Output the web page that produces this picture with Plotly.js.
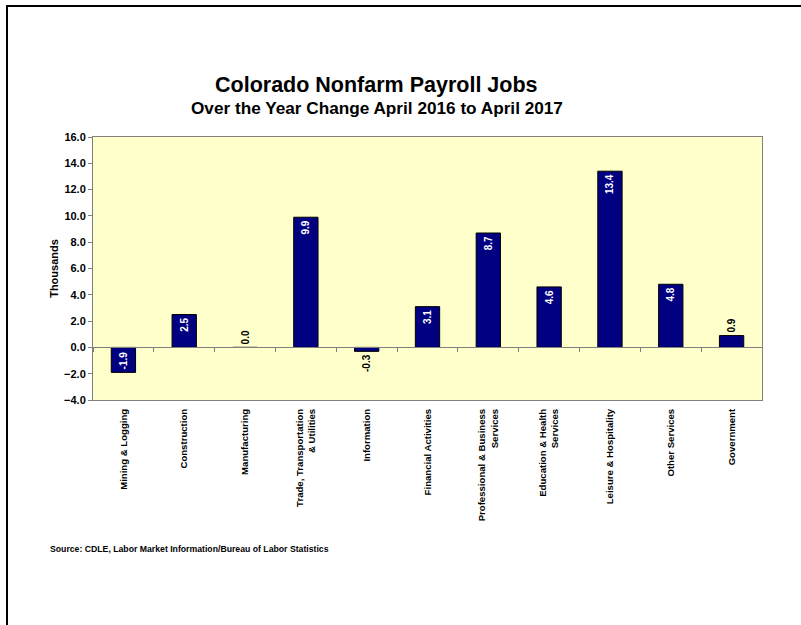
<!DOCTYPE html>
<html>
<head>
<meta charset="utf-8">
<script src="https://cdn.plot.ly/plotly-3.0.1.min.js"></script>
<style>
  html, body { margin: 0; padding: 0; background: #fff; }
  #wrap { position: relative; width: 801px; height: 625px; overflow: hidden; }
  #chart { position: absolute; left: 0; top: 0; width: 801px; height: 625px; }
  #frame { position: absolute; left: 6px; top: 5px; width: 810px; height: 640px;
           border-left: 2px solid #000; border-top: 2px solid #000; pointer-events: none; }
</style>
</head>
<body>
<div id="wrap">
  <div id="chart"></div>
  <div id="frame"></div>
</div>
<script>
// ---- data ----
const categories = [
  "Mining & Logging",
  "Construction",
  "Manufacturing",
  "Trade, Transportation<br>& Utilities",
  "Information",
  "Financial Activities",
  "Professional & Business<br>Services",
  "Education & Health<br>Services",
  "Leisure & Hospitality",
  "Other Services",
  "Government"
];
const values = [-1.9, 2.5, 0.0, 9.9, -0.3, 3.1, 8.7, 4.6, 13.4, 4.8, 0.9];
const valueLabels = values.map(v => v.toFixed(1));
const labelPositions = ["inside","inside","outside","inside","outside","inside","inside","inside","inside","inside","outside"];

const yTickVals = [-4, -2, 0, 2, 4, 6, 8, 10, 12, 14, 16];

const titleText = "<b>Colorado Nonfarm Payroll Jobs</b>";
const subtitleText = "<b>Over the Year Change April 2016 to April 2017</b>";
const sourceText = "<b>Source: CDLE, Labor Market Information/Bureau of Labor Statistics</b>";
const yTitle = "<b>Thousands</b>";

const FONT = "Liberation Sans, Arial, sans-serif";

const bars = {
  type: "bar",
  x: categories,
  y: values,
  width: 0.4,
  marker: { color: "#000080", line: { color: "#000000", width: 1 } },
  text: valueLabels,
  textposition: labelPositions,
  insidetextanchor: "end",
  textangle: -90,
  constraintext: "none",
  cliponaxis: false,
  insidetextfont: { family: FONT, size: 10, color: "#ffffff", weight: "bold" },
  outsidetextfont: { family: FONT, size: 10, color: "#000000", weight: "bold" },
  hoverinfo: "x+y"
};

const zeroAxisHelper = {
  type: "scatter",
  mode: "markers",
  x: categories,
  y: values,
  xaxis: "x2",
  marker: { opacity: 0 },
  hoverinfo: "skip",
  showlegend: false
};

const layout = {
  width: 801,
  height: 625,
  margin: { l: 93, r: 39, t: 137, b: 225 },
  paper_bgcolor: "#ffffff",
  plot_bgcolor: "#FFFFCC",
  showlegend: false,
  font: { family: FONT, color: "#000" },
  xaxis: {
    type: "category",
    range: [-0.5, 10.5],
    showgrid: false,
    zeroline: false,
    showline: true,
    mirror: true,
    linecolor: "#808080",
    linewidth: 1,
    ticks: "",
    tickangle: -90,
    ticklabelstandoff: 4,
    tickfont: { family: FONT, size: 9.6, color: "#000", weight: "bold" }
  },
  xaxis2: {
    type: "category",
    overlaying: "x",
    anchor: "free",
    position: 0.2,
    side: "bottom",
    range: [-0.5, 10.5],
    showgrid: false,
    zeroline: false,
    showline: true,
    linecolor: "#808080",
    linewidth: 1,
    ticks: "outside",
    tickson: "boundaries",
    ticklen: 4,
    tickcolor: "#808080",
    showticklabels: false
  },
  yaxis: {
    range: [-4, 16],
    tickvals: yTickVals,
    tickformat: ".1f",
    showgrid: false,
    zeroline: false,
    showline: true,
    mirror: true,
    linecolor: "#808080",
    linewidth: 1,
    ticks: "outside",
    ticklen: 4,
    tickcolor: "#808080",
    tickfont: { family: FONT, size: 11, color: "#000", weight: "bold" },
    title: { text: yTitle, font: { family: FONT, size: 11, color: "#000" }, standoff: 3 }
  },
  annotations: [
    { text: titleText, xref: "paper", yref: "paper", x: 0.4245, y: 1.198,
      xanchor: "center", yanchor: "middle", showarrow: false,
      font: { family: FONT, size: 21.5, color: "#000" } },
    { text: subtitleText, xref: "paper", yref: "paper", x: 0.4245, y: 1.11,
      xanchor: "center", yanchor: "middle", showarrow: false,
      font: { family: FONT, size: 17.2, color: "#000" } },
    { text: sourceText, xref: "paper", yref: "paper", x: -0.0673, y: -0.567,
      xanchor: "left", yanchor: "middle", showarrow: false,
      font: { family: FONT, size: 8.7, color: "#000" } }
  ]
};

Plotly.newPlot("chart", [bars, zeroAxisHelper], layout, { displayModeBar: false, staticPlot: true });
</script>
</body>
</html>
